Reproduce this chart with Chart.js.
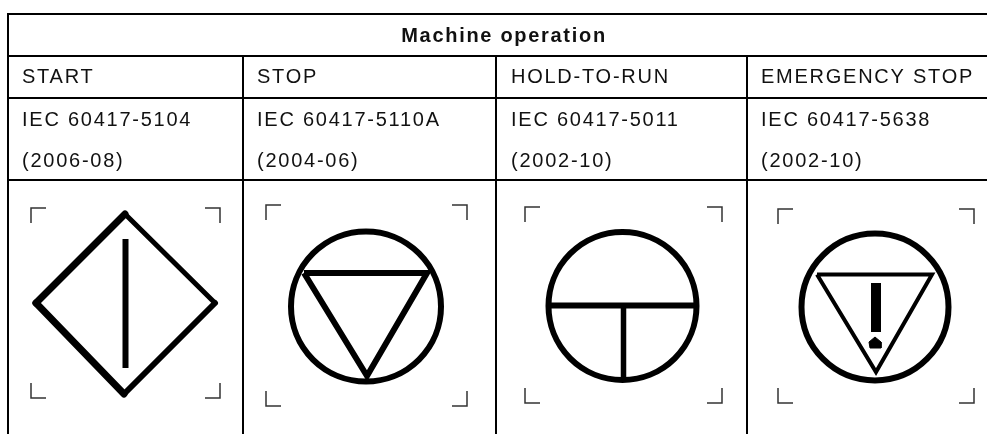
<!DOCTYPE html>
<html><head><meta charset="utf-8">
<style>html,body{margin:0;padding:0;background:#fff}canvas{display:block}</style>
<script src="https://cdn.jsdelivr.net/npm/chart.js@4/dist/chart.umd.min.js"></script>
</head><body><canvas id="c" width="987" height="434"></canvas>
<script>
const titleText = "Machine operation";
const columnLabels = ["START","STOP","HOLD-TO-RUN","EMERGENCY STOP"];
const standardLabels = ["IEC 60417-5104","IEC 60417-5110A","IEC 60417-5011","IEC 60417-5638"];
const dateLabels = ["(2006-08)","(2004-06)","(2002-10)","(2002-10)"];
const columnTextX = [22,257,511,761];
const rowBaselines = [83,126,167];

// table rules: [x1,y1,x2,y2]
const tableRules = [[7,14,987,14],[8,14,8,434],[8,56,987,56],[8,98,987,98],[8,180,987,180],
  [243,56,243,434],[496,56,496,434],[747,56,747,434]];
// crop marks: left,right,top,bottom
const cropBoxes = [[31,220,208,398],[266,467,205,406],[525,722,207,403],[778,974,209,403]];
const armLength = 15;
// symbol strokes: points, width
const diamondStrokes = [
  {p:[[125,214],[36,303]],w:7},{p:[[125,214],[215,303]],w:5},
  {p:[[215,303],[124,394]],w:6},{p:[[124,394],[36,303]],w:7},
  {p:[[125.5,239],[125.5,368]],w:6}];
const stopTriangle = [[304,273],[427,273],[367,376],[304,273]];
const runLines = [[[548,305.5],[697,305.5]],[[623.5,305],[623.5,381]]];
const emergencyTriangle = [[817,274.5],[932,274.5],[876,372],[817,274.5]];
const emergencyBar = [[876,283],[876,332]];
const emergencyDot = [[875,337],[881,342],[881,348],[870,348],[869,342],[875,337]];
// circles: x,y,radius
const circles = [[366,306.5,75],[622.5,306,74],[875,307,73.5]];

const toXY = a => a.map(([x,y])=>({x,y}));
const line = (pts,w,color='#000',cap='butt') => ({type:'scatter',data:toXY(pts),showLine:true,borderColor:color,
  backgroundColor:color,borderWidth:w,pointRadius:0,tension:0,borderCapStyle:cap,borderJoinStyle:'miter',fill:false});
const ds = [];
tableRules.forEach(([a,b,c,d])=>ds.push(line([[a,b],[c,d]],2)));
cropBoxes.forEach(([l,r,t,b])=>{
  const g='#333';
  ds.push(line([[l+armLength,t],[l,t],[l,t+armLength]],1.5,g));
  ds.push(line([[r-armLength,t],[r,t],[r,t+armLength]],1.5,g));
  ds.push(line([[l,b-armLength],[l,b],[l+armLength,b]],1.5,g));
  ds.push(line([[r,b-armLength],[r,b],[r-armLength,b]],1.5,g));
});
diamondStrokes.forEach((s,i)=>ds.push(line(s.p,s.w,'#000',i<4?'round':'butt')));
ds.push(line(stopTriangle,6));
runLines.forEach((p,i)=>ds.push(line(p,i?5.5:6)));
ds.push(line(emergencyTriangle,4));
ds.push(line(emergencyBar,10));
ds.push({...line(emergencyDot,1),fill:'shape'});
circles.forEach(([x,y,r])=>ds.push({type:'scatter',data:[{x,y}],showLine:false,pointStyle:'circle',
  pointRadius:r,pointBorderWidth:6,pointBorderColor:'#000',pointBackgroundColor:'rgba(0,0,0,0)'}));

const tableText = {id:'tableText',afterDatasetsDraw(chart){
  const {ctx,scales:{x,y}}=chart;
  ctx.save();ctx.fillStyle='#111';ctx.textBaseline='alphabetic';
  ctx.textAlign='center';ctx.font='bold 20px "Liberation Sans"';ctx.letterSpacing='1.7px';
  ctx.fillText(titleText,x.getPixelForValue(504),y.getPixelForValue(41.5));
  ctx.textAlign='left';ctx.font='20px "Liberation Sans"';ctx.letterSpacing='1.75px';
  [columnLabels,standardLabels,dateLabels].forEach((row,i)=>row.forEach((t,j)=>
    ctx.fillText(t,x.getPixelForValue(columnTextX[j]),y.getPixelForValue(rowBaselines[i]))));
  ctx.restore();
}};

new Chart(document.getElementById('c'),{
  data:{datasets:ds},
  plugins:[tableText],
  options:{responsive:false,animation:false,devicePixelRatio:1,
    layout:{padding:0,autoPadding:false},
    plugins:{legend:{display:false},tooltip:{enabled:false},title:{display:false}},
    scales:{x:{type:'linear',min:0,max:987,display:false},
            y:{type:'linear',min:0,max:434,reverse:true,display:false}}}
});
</script></body></html>
